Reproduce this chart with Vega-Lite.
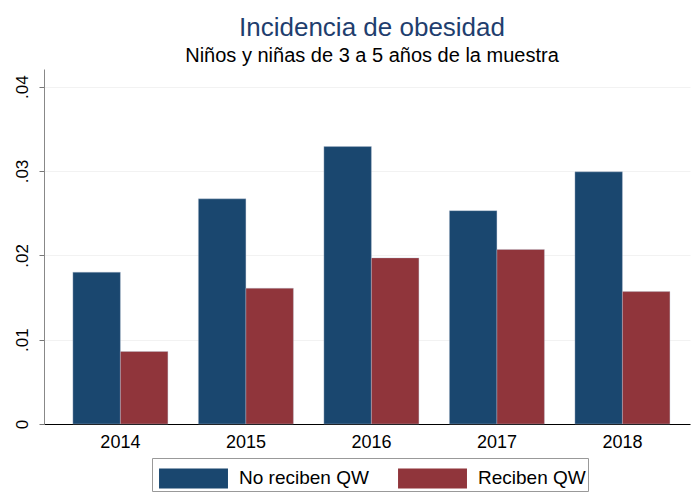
{
  "$schema": "https://vega.github.io/schema/vega-lite/v6.json",
  "width": 646,
  "height": 355,
  "autosize": {"type": "none"},
  "padding": {"left": 44, "top": 69, "right": 4, "bottom": 68},
  "background": "white",
  "title": {
    "text": "Incidencia de obesidad",
    "subtitle": "Niños y niñas de 3 a 5 años de la muestra",
    "anchor": "middle",
    "dx": 5,
    "font": "Liberation Sans",
    "fontSize": 26,
    "fontWeight": "normal",
    "color": "#1f3e6e",
    "subtitleFont": "Liberation Sans",
    "subtitleFontSize": 20,
    "subtitleColor": "#000000",
    "subtitlePadding": 5,
    "offset": 3
  },
  "data": {
    "values": [
      {"year": "2014", "group": "No reciben QW", "value": 0.0180},
      {"year": "2014", "group": "Reciben QW", "value": 0.0086},
      {"year": "2015", "group": "No reciben QW", "value": 0.0267},
      {"year": "2015", "group": "Reciben QW", "value": 0.0161},
      {"year": "2016", "group": "No reciben QW", "value": 0.0329},
      {"year": "2016", "group": "Reciben QW", "value": 0.0197},
      {"year": "2017", "group": "No reciben QW", "value": 0.0253},
      {"year": "2017", "group": "Reciben QW", "value": 0.0207},
      {"year": "2018", "group": "No reciben QW", "value": 0.0299},
      {"year": "2018", "group": "Reciben QW", "value": 0.0157}
    ]
  },
  "mark": {"type": "bar", "stroke": "#b8c4d4", "strokeWidth": 0.6, "strokeOpacity": 0.6},
  "encoding": {
    "x": {
      "field": "year",
      "type": "nominal",
      "scale": {"paddingInner": 0.243, "paddingOuter": 0.195, "align": 0.59},
      "axis": {
        "title": null,
        "labelAngle": 0,
        "labelFont": "Liberation Sans",
        "labelFontSize": 18,
        "labelColor": "#000000",
        "labelPadding": 9,
        "ticks": false,
        "domainColor": "#000000",
        "domainWidth": 1
      }
    },
    "xOffset": {"field": "group", "type": "nominal", "scale": {"paddingInner": 0, "paddingOuter": 0}},
    "y": {
      "field": "value",
      "type": "quantitative",
      "scale": {"domain": [0, 0.0421], "nice": false, "zero": true},
      "axis": {
        "title": null,
        "values": [0, 0.01, 0.02, 0.03, 0.04],
        "labelExpr": "datum.value == 0 ? '0' : replace(format(datum.value, '.2f'), '0.', '.')",
        "labelAngle": -90,
        "labelAlign": "center",
        "labelBaseline": "bottom",
        "labelFont": "Liberation Sans",
        "labelFontSize": 17,
        "labelColor": "#000000",
        "labelPadding": 8,
        "tickSize": 5,
        "tickColor": "#777777",
        "domainColor": "#888888",
        "grid": true,
        "gridColor": "#f2f2f2",
        "gridWidth": 1
      }
    },
    "color": {
      "field": "group",
      "type": "nominal",
      "scale": {"domain": ["No reciben QW", "Reciben QW"], "range": ["#1a476f", "#90353b"]},
      "legend": {
        "title": null,
        "orient": "none",
        "legendX": 108,
        "legendY": 389,
        "direction": "horizontal",
        "symbolType": "M-0.72,-0.56H3.11V0.56H-0.72Z",
        "symbolSize": 1296,
        "symbolStrokeWidth": 0,
        "symbolOpacity": 1,
        "labelFont": "Liberation Sans",
        "labelFontSize": 19,
        "labelColor": "#000000",
        "labelOffset": 49,
        "labelLimit": 300,
        "columnPadding": 24,
        "strokeColor": "#999999",
        "padding": 2
      }
    }
  },
  "config": {"view": {"stroke": null}}
}
